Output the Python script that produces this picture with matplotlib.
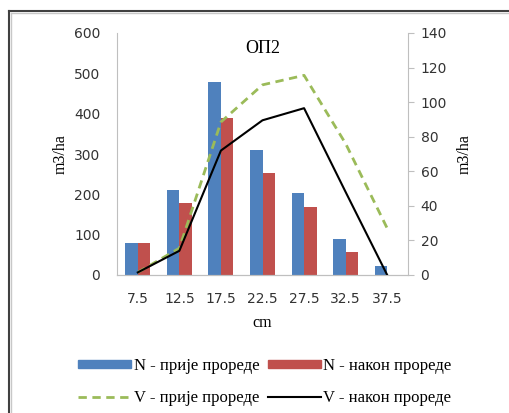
import numpy as np
import matplotlib.pyplot as plt
from matplotlib.lines import Line2D

# Data
classes = ["7.5", "12.5", "17.5", "22.5", "27.5", "32.5", "37.5"]
n_before = [80, 211, 479, 310, 203, 89, 22]
n_after = [80, 179, 390, 253, 169, 57, 0]
v_before = [1.5, 15.5, 88.5, 110, 115.5, 76, 27]
v_after = [1.5, 14, 72, 89.5, 96.5, 48, 0]

plt.rcParams['font.family'] = ['Liberation Serif', 'DejaVu Serif']

fig = plt.figure(figsize=(5.09, 4.13), dpi=100)
ax = fig.add_axes([117 / 509, 1 - 275 / 413, (408 - 117) / 509, (275 - 33) / 413])
ax2 = ax.twinx()

x = np.arange(len(classes))
w = 0.3
ax.bar(x - w / 2, n_before, w, color="#4F81BD")
ax.bar(x + w / 2, n_after, w, color="#C0504D")
ax2.plot(x, v_before, color="#9BBB59", lw=2, ls=(0, (3, 2)))
ax2.plot(x, v_after, color="black", lw=1.5)

ax.set_xlim(-0.5, len(classes) - 0.5)
ax.set_ylim(0, 600)
ax.set_yticks(range(0, 601, 100))
ax2.set_ylim(0, 140)
ax2.set_yticks(range(0, 141, 20))
ax.set_xticks(x)
ax.set_xticklabels(classes)

grey = "#BFBFBF"
for a in (ax, ax2):
    a.spines['top'].set_visible(False)
    a.spines['left'].set_color(grey)
    a.spines['right'].set_color(grey)
    a.spines['bottom'].set_color(grey)
    a.tick_params(labelsize=10, colors=grey, labelcolor="#333333")
    for lab in a.get_xticklabels() + a.get_yticklabels():
        lab.set_family("DejaVu Sans")
ax.spines['right'].set_visible(False)
ax2.spines['left'].set_visible(False)
ax.tick_params(axis='y', length=0, pad=12)
ax.tick_params(axis='x', length=0, pad=12)
ax2.tick_params(axis='y', length=4, direction='out', pad=5)

ax.set_ylabel("m3/ha", fontsize=11.5, labelpad=4)
ax2.set_ylabel("m3/ha", fontsize=11.5, labelpad=7)
ax.set_xlabel("cm", fontsize=11.5, labelpad=7)
ax.text(0.5, 0.97, "ОП2", transform=ax.transAxes, ha="center", va="top", fontsize=13)

handles = [
    plt.Rectangle((0, 0), 1, 1, color="#4F81BD"),
    Line2D([], [], color="#9BBB59", lw=2, ls=(0, (3, 2))),
    plt.Rectangle((0, 0), 1, 1, color="#C0504D"),
    Line2D([], [], color="black", lw=1.5),
]
labels = ["N - прије прореде", "V - прије прореде", "N - након прореде", "V - након прореде"]
fig.legend(handles, labels, ncol=2, loc="center", bbox_to_anchor=(0.52, 1 - 382 / 413),
           frameon=False, fontsize=12, handlelength=3.2, handleheight=0.3,
           handletextpad=0.15, columnspacing=0.5, labelspacing=0.95)

# outer frame lines (left and top)
fig.add_artist(Line2D([9 / 509, 9 / 509], [0, 1 - 11 / 413], color="#404040", lw=1.5))
fig.add_artist(Line2D([9 / 509, 1], [1 - 11 / 413, 1 - 11 / 413], color="#404040", lw=1.5))
fig.add_artist(Line2D([10.5 / 509, 10.5 / 509], [0, 1 - 12.5 / 413], color="#C8C8C8", lw=1))
fig.add_artist(Line2D([10.5 / 509, 1], [1 - 12.5 / 413, 1 - 12.5 / 413], color="#C8C8C8", lw=1))

fig.savefig("out.png", dpi=100)
